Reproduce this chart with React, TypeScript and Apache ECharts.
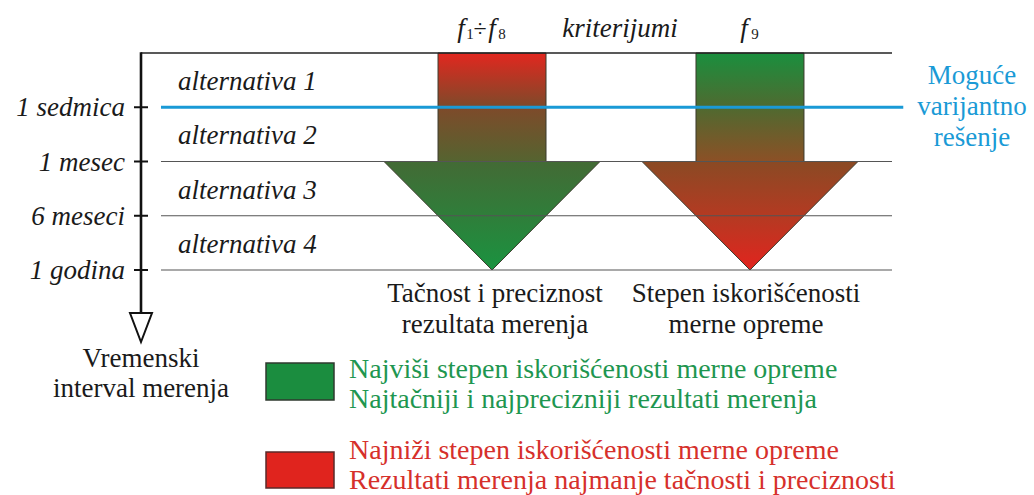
import React, { useEffect, useRef } from 'react';
import * as echarts from 'echarts';

// ---- data ----
const levelValues = [0, 1, 2, 3, 4];
const tickValues = [1, 2, 3, 4];
const tickLabels = ['1 sedmica', '1 mesec', '6 meseci', '1 godina'];
const alternativeLabels = ['alternativa 1', 'alternativa 2', 'alternativa 3', 'alternativa 4'];
const solutionLevel = 1;
// arrow: [center x, top level, neck level, tip level]
const arrowData = [
  [46.74, 0, 2, 4],
  [81.09, 0, 2, 4],
];
const arrowTitles = ['Tačnost i preciznost\nrezultata merenja', 'Stepen iskorišćenosti\nmerne opreme'];
const legendGood = ['Najviši stepen iskorišćenosti merne opreme', 'Najtačniji i najprecizniji rezultati merenja'];
const legendBad = ['Najniži stepen iskorišćenosti merne opreme', 'Rezultati merenja najmanje tačnosti i preciznosti'];
const solutionLabel = ['Moguće', 'varijantno', 'rešenje'];
const axisTitle = ['Vremenski', 'interval merenja'];

// ---- styles ----
const FONT = '"Liberation Serif", "Times New Roman", Tinos, "DejaVu Serif", serif';
const FS = 27;
const LEGEND_FS = 28;
const INK = '#1a1a1a';
const BLUE = '#1a9ad6';
const GREEN_TXT = '#1e9650';
const RED_TXT = '#d6302b';
const SHAFT_HALF = 7.19;
const HEAD_HALF = 14.38;
const LINE_START = 2.66;
const BLUE_END = 101.5;
const shaftGradients = [
  [['#e2271f', 0], ['#7e4a2a', 0.5], ['#556430', 1]],
  [['#1a8f3e', 0], ['#4f6a30', 0.5], ['#8c5026', 1]],
];
const headGradients = [
  [['#436a35', 0], ['#2f7e3a', 0.5], ['#1a9340', 1]],
  [['#8a4a24', 0], ['#b43a22', 0.5], ['#e2241e', 1]],
];

function grad(stops: any[]) {
  return new echarts.graphic.LinearGradient(0, 0, 0, 1, stops.map(([c, o]) => ({ offset: o, color: c })));
}

export default function App() {
  const ref = useRef<HTMLDivElement>(null);
  useEffect(() => {
    const chart = echarts.init(ref.current!, undefined, { renderer: 'svg' });
    const txt = (text: string, x: number, y: number, extra: any = {}) => ({
      type: 'text',
      x,
      y,
      style: {
        text,
        fontFamily: FONT,
        fontSize: FS,
        fill: INK,
        align: 'center',
        verticalAlign: 'middle',
        ...extra,
      },
    });
    const graphics: any[] = [];
    // top labels
    graphics.push(txt('f', 461, 28, { fontStyle: 'italic' }));
    graphics.push(txt('1', 470, 34, { fontSize: 15 }));
    graphics.push(txt('÷', 480, 28, { fontSize: 24 }));
    graphics.push(txt('f', 492, 28, { fontStyle: 'italic' }));
    graphics.push(txt('8', 502, 34, { fontSize: 15 }));
    graphics.push(txt('kriterijumi', 620, 28, { fontStyle: 'italic' }));
    graphics.push(txt('f', 744, 28, { fontStyle: 'italic' }));
    graphics.push(txt('9', 755, 34, { fontSize: 15 }));
    // solution label
    solutionLabel.forEach((t, i) => graphics.push(txt(t, 972, 75 + i * 31, { fill: BLUE })));
    // arrow titles
    const titleX = [495, 746];
    arrowTitles.forEach((t, i) => {
      t.split('\n').forEach((line, j) => graphics.push(txt(line, titleX[i], 293 + j * 31)));
    });
    // axis title
    axisTitle.forEach((t, i) => graphics.push(txt(t, 141, 358 + i * 30)));
    // legend
    graphics.push({ type: 'rect', shape: { x: 266, y: 363, width: 68, height: 37 }, style: { fill: '#1b8d3f', stroke: '#2f3a2f', lineWidth: 1.5 } });
    graphics.push({ type: 'rect', shape: { x: 266, y: 452, width: 68, height: 36 }, style: { fill: '#e0241e', stroke: '#5a2a2a', lineWidth: 1.5 } });
    legendGood.forEach((t, i) => graphics.push(txt(t, 349, 368 + i * 30, { align: 'left', fill: GREEN_TXT, fontSize: LEGEND_FS })));
    legendBad.forEach((t, i) => graphics.push(txt(t, 349, 449 + i * 30, { align: 'left', fill: RED_TXT, fontSize: LEGEND_FS })));

    chart.setOption({
      animation: false,
      backgroundColor: '#ffffff',
      textStyle: { fontFamily: FONT },
      grid: { left: 141, right: 142, top: 53, bottom: 225, outerBoundsMode: 'none' },
      xAxis: { type: 'value', min: 0, max: 100, show: false },
      yAxis: {
        type: 'value',
        inverse: true,
        min: 0,
        max: 4,
        axisLine: { show: false },
        axisTick: { show: false },
        splitLine: { show: false },
        axisLabel: {
          customValues: tickValues,
          formatter: (v: number) => tickLabels[tickValues.indexOf(v)] ?? '',
          fontFamily: FONT,
          fontStyle: 'italic',
          fontSize: FS,
          color: INK,
          margin: 16,
          padding: [0, 0, 8, 0],
        },
      },
      graphic: graphics,
      series: [
        {
          type: 'custom',
          name: 'arrows',
          clip: false,
          z: 2,
          data: arrowData,
          renderItem: (params: any, api: any) => {
            const cx = api.value(0), top = api.value(1), neck = api.value(2), tip = api.value(3);
            const i = params.dataIndex;
            const a = api.coord([cx - SHAFT_HALF, top]);
            const b = api.coord([cx + SHAFT_HALF, top]);
            const c = api.coord([cx + SHAFT_HALF, neck]);
            const d = api.coord([cx - SHAFT_HALF, neck]);
            const h1 = api.coord([cx - HEAD_HALF, neck]);
            const h2 = api.coord([cx + HEAD_HALF, neck]);
            const t = api.coord([cx, tip]);
            return {
              type: 'group',
              children: [
                { type: 'polygon', shape: { points: [a, b, c, d] }, style: { fill: grad(shaftGradients[i]), stroke: '#3b3a2c', lineWidth: 1 } },
                { type: 'polygon', shape: { points: [h1, h2, t] }, style: { fill: grad(headGradients[i]), stroke: '#3b3a2c', lineWidth: 1 } },
              ],
            };
          },
        },
        {
          type: 'custom',
          name: 'levels',
          clip: false,
          z: 3,
          data: levelValues.map((v) => [v]),
          renderItem: (params: any, api: any) => {
            const v = api.value(0);
            const isTop = v === 0;
            const isSol = v === solutionLevel;
            const p1 = api.coord([isTop ? 0 : LINE_START, v]);
            const p2 = api.coord([isSol ? BLUE_END : 100, v]);
            return {
              type: 'line',
              shape: { x1: p1[0], y1: p1[1], x2: p2[0], y2: p2[1] },
              style: {
                stroke: isSol ? BLUE : isTop ? '#222' : '#555',
                lineWidth: isSol ? 3 : isTop ? 1.6 : 1.1,
              },
            };
          },
        },
        {
          type: 'custom',
          name: 'axis',
          clip: false,
          z: 4,
          data: [[0, 0, 4]],
          renderItem: (params: any, api: any) => {
            const top = api.coord([api.value(0), api.value(1)]);
            const bot = api.coord([api.value(0), api.value(2)]);
            const x = top[0];
            const headTop = bot[1] + 43;
            const headTip = bot[1] + 72;
            const ticks = tickValues.map((tv) => {
              const p = api.coord([0, tv]);
              return { type: 'line', shape: { x1: x - 7, y1: p[1], x2: x + 7, y2: p[1] }, style: { stroke: '#111', lineWidth: 2 } };
            });
            return {
              type: 'group',
              children: [
                { type: 'line', shape: { x1: x, y1: top[1] - 0.8, x2: x, y2: headTop }, style: { stroke: '#111', lineWidth: 2.6 } },
                ...ticks,
                { type: 'polygon', shape: { points: [[x - 11, headTop], [x + 11, headTop], [x, headTip]] }, style: { fill: '#fff', stroke: '#111', lineWidth: 2 } },
              ],
            };
          },
        },
        {
          type: 'custom',
          name: 'alternatives',
          clip: false,
          z: 5,
          data: alternativeLabels.map((t, i) => [4.93, i + 0.5]),
          renderItem: (params: any, api: any) => {
            const p = api.coord([api.value(0), api.value(1)]);
            return {
              type: 'text',
              x: p[0],
              y: p[1] + 1,
              style: {
                text: alternativeLabels[params.dataIndex],
                fontFamily: FONT,
                fontStyle: 'italic',
                fontSize: FS,
                fill: INK,
                align: 'left',
                verticalAlign: 'middle',
              },
            };
          },
        },
      ],
    });
    return () => chart.dispose();
  }, []);
  return <div ref={ref} style={{ position: 'fixed', left: 0, top: 0, width: 1034, height: 495, background: '#fff' }} />;
}
